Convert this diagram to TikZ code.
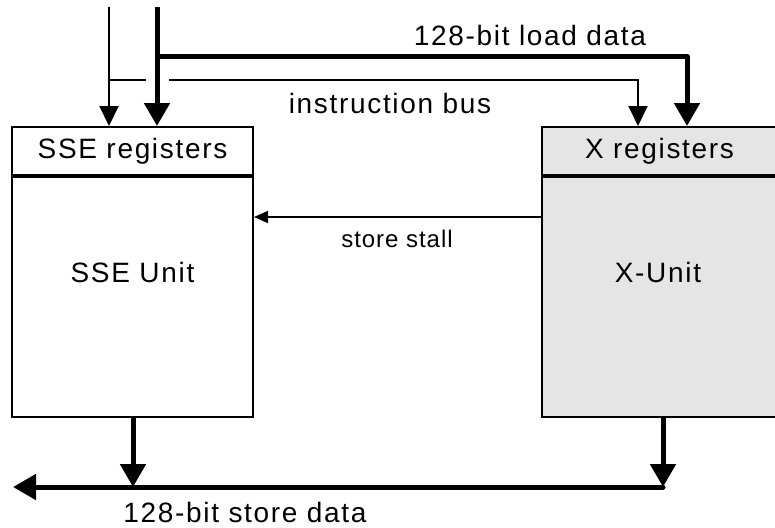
\documentclass[tikz,border=0pt]{standalone}
\usepackage{fontspec}
\setmainfont{Liberation Sans}
\usetikzlibrary{arrows.meta,positioning,calc}
\definecolor{unitgray}{RGB}{229,229,229}
\tikzset{
  regbox/.style={rectangle,draw=black,line width=2pt,minimum width=241pt,minimum height=48pt,inner sep=0pt,
    font=\fontsize{28}{32}\selectfont\addfontfeature{LetterSpace=6}},
  unitbox/.style={rectangle,draw=black,line width=2pt,minimum width=241pt,minimum height=240pt,inner sep=0pt},
  unitlabel/.style={font=\fontsize{28}{32}\selectfont\addfontfeature{LetterSpace=6}},
  buslabel/.style={font=\fontsize{28}{32}\selectfont\addfontfeature{LetterSpace=6}},
  smalllabel/.style={font=\fontsize{24}{28}\selectfont\addfontfeature{LetterSpace=4}},
  thinbus/.style={line width=2pt,draw=black},
  thickbus/.style={line width=5pt,draw=black,line join=round},
  thinarr/.style={-{Triangle[length=20pt,width=19pt]},line width=2pt},
  thickarr/.style={-{Triangle[length=23pt,width=25pt]},line width=5pt,line join=round},
  stallarr/.style={-{Triangle[length=14pt,width=12pt]},line width=1.6pt}
}

\begin{document}
\begin{tikzpicture}[x=1pt,y=-1pt]
\useasboundingbox (0,0) rectangle (775,527);

% register files and units
\node[regbox] (sseregs) at (132.5,151) {SSE registers};
\node[unitbox,below=0pt of sseregs] (sseunit) {};
\node[regbox,fill=unitgray,minimum width=235pt] (xregs) at (659.5,151) {X registers};
\node[unitbox,fill=unitgray,minimum width=235pt,below=0pt of xregs] (xunit) {};

\node[unitlabel] (sselab) at (132.5,272) {SSE Unit};
\node[unitlabel] (xlab) at (658,272) {X-Unit};

% load data and instruction bus from above
\coordinate (ibtop)   at (109,7);
\coordinate (ldtop)   at (157,7);
\coordinate (ldjoin)  at (157,56);
\coordinate (ldturn)  at (687,56);
\coordinate (ibjoin)  at (109,80);
\coordinate (ibgapL)  at (146,80);
\coordinate (ibgapR)  at (169,80);
\coordinate (ibturn)  at (638,80);

\draw[thinarr] (ibtop) -- (ibtop |- sseregs.north);
\draw[thickarr] (ldtop) -- (ldtop |- sseregs.north);
\draw[thickarr] (ldjoin) -- (ldturn) -- (ldturn |- xregs.north);
\draw[thinbus] (ibjoin) -- (ibgapL);
\draw[thinarr] (ibgapR) -- (ibturn) -- (ibturn |- xregs.north);

\node[buslabel] (ldlab) at (530,35) {128-bit load data};
\node[buslabel] (iblab) at (390,103) {instruction bus};

% stall signal between the units
\coordinate (stallsrc) at (542,217);
\draw[stallarr] (stallsrc) -- (sseunit.east |- stallsrc);
\node[smalllabel] (stalllab) at (397,239) {store stall};

% store data bus below
\coordinate (sseout) at (133,487);
\coordinate (xout)   at (663,487);
\coordinate (stleft) at (13,487);

\draw[thickarr] (sseunit.south -| sseout) -- (sseout);
\draw[thickarr] (xunit.south -| xout) -- (xout);
\draw[thickarr,line cap=round] (xout) -- (stleft);

\node[buslabel] (stlab) at (245,512) {128-bit store data};
\end{tikzpicture}
\end{document}
